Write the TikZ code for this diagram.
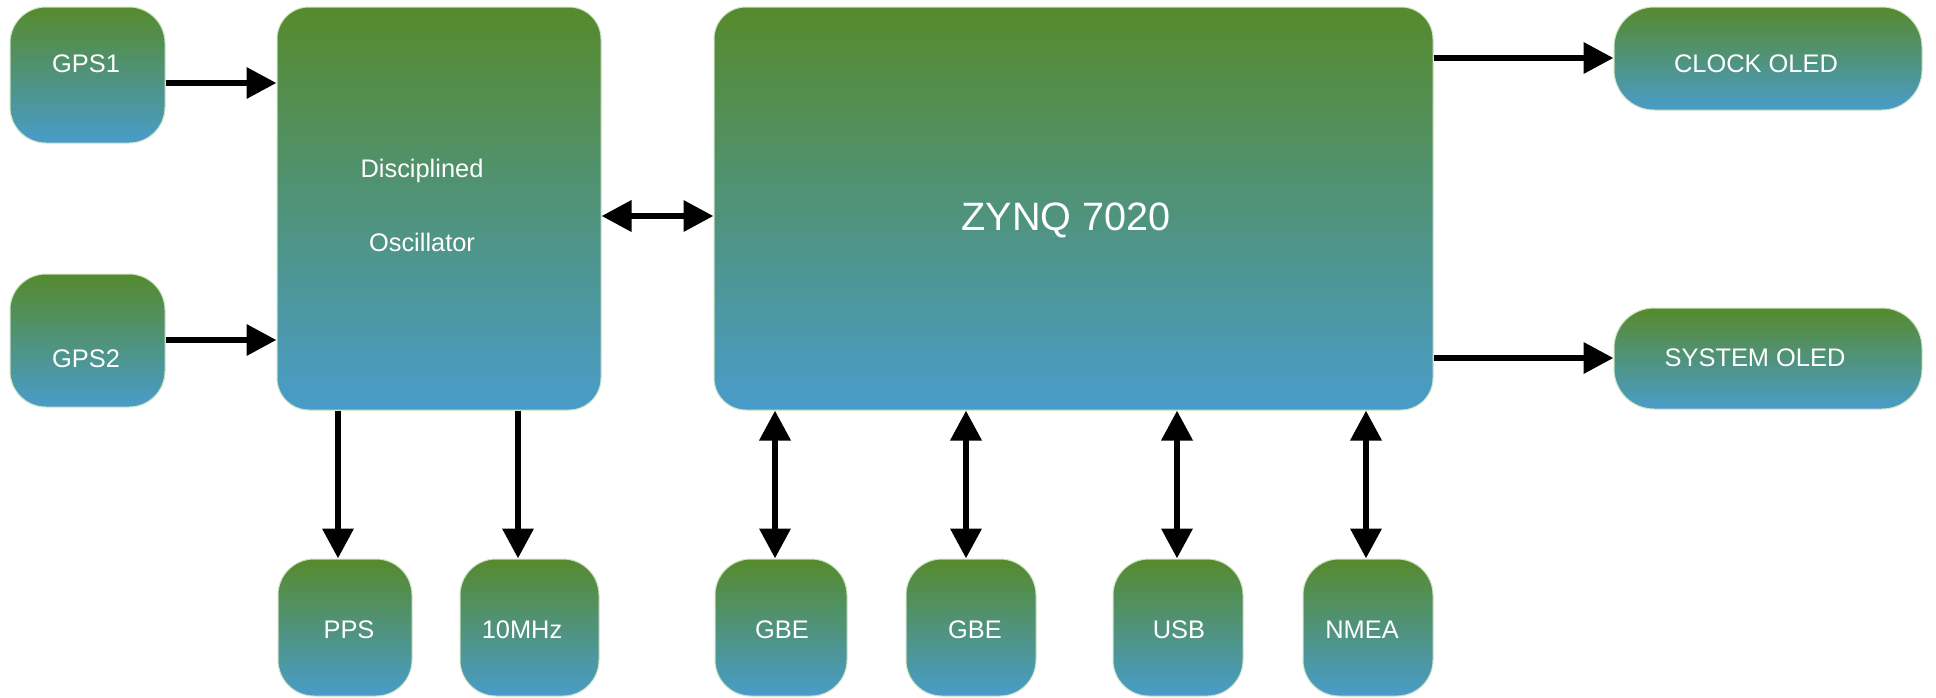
\documentclass[tikz,border=0pt]{standalone}
\usepackage{fontspec}
\setmainfont{Liberation Sans}
\usetikzlibrary{arrows.meta}
\definecolor{topg}{RGB}{86,138,44}
\definecolor{botb}{RGB}{73,156,202}
\definecolor{edgec}{RGB}{205,228,195}
\tikzset{
  x=0.5pt, y=-0.5pt,
  box/.style={rectangle, rounded corners=#1, top color=topg, bottom color=botb,
    draw=edgec, line width=0.5pt, inner sep=0pt},
  box/.default=16pt,
  txt/.style={text=white, inner sep=0pt, anchor=base, font=\fontsize{12.7pt}{15pt}\selectfont},
  bigtxt/.style={text=white, inner sep=0pt, anchor=base, font=\fontsize{19.8pt}{23pt}\selectfont},
  arr/.style={line width=3.3pt, -{Triangle[length=15pt,width=15pt]}},
  biarr/.style={line width=3.3pt, {Triangle[length=15pt,width=15pt]}-{Triangle[length=15pt,width=15pt]}}
}
\begin{document}
\begin{tikzpicture}
\useasboundingbox (0,0) rectangle (1936,697);
% boxes
\node[box=18pt, minimum width=77.5pt, minimum height=68pt] (gps1) at (87.5,75) {};
\node[box=18pt, minimum width=77.5pt, minimum height=66.5pt] (gps2) at (87.5,340.5) {};
\node[box=16pt, minimum width=162pt, minimum height=201.5pt] (osc) at (439,208.5) {};
\node[box=16pt, minimum width=359.5pt, minimum height=201.5pt] (zynq) at (1073.5,208.5) {};
\node[box=20pt, minimum width=154pt, minimum height=51.5pt] (clock) at (1768,58.5) {};
\node[box=20pt, minimum width=154pt, minimum height=50.5pt] (sys) at (1768,358.5) {};
\node[box=18pt, minimum width=67pt, minimum height=68.5pt] (pps) at (345,627.5) {};
\node[box=18pt, minimum width=69.5pt, minimum height=68.5pt] (mhz) at (529.5,627.5) {};
\node[box=18pt, minimum width=66pt, minimum height=68.5pt] (gbea) at (781,627.5) {};
\node[box=18pt, minimum width=65pt, minimum height=68.5pt] (gbeb) at (971,627.5) {};
\node[box=18pt, minimum width=65pt, minimum height=68.5pt] (usb) at (1178,627.5) {};
\node[box=18pt, minimum width=65pt, minimum height=68.5pt] (nmea) at (1368,627.5) {};
% texts
\node[txt] (gps1t) at (86,72) {GPS1};
\node[txt] (gps2t) at (86,367) {GPS2};
\node[txt] (osct1) at (422,177) {Disciplined};
\node[txt] (osct2) at (422,251) {Oscillator};
\node[bigtxt] (zynqt) at (1066,230) {ZYNQ 7020};
\node[txt] (clockt) at (1756,72) {CLOCK OLED};
\node[txt] (syst) at (1755,366) {SYSTEM OLED};
\node[txt] (ppst) at (349,638) {PPS};
\node[txt] (mhzt) at (522,638) {10MHz};
\node[txt] (gbeat) at (782,638) {GBE};
\node[txt] (gbebt) at (975,638) {GBE};
\node[txt] (usbt) at (1179,638) {USB};
\node[txt] (nmeat) at (1362,638) {NMEA};
% connectors
\draw[arr] (gps1.east |- 0,83) -- (osc.west |- 0,83);
\draw[arr] (gps2.east |- 0,340) -- (osc.west |- 0,340);
\draw[biarr] (osc.east |- 0,216) -- (zynq.west |- 0,216);
\draw[arr] (zynq.east |- 0,58) -- (clock.west |- 0,58);
\draw[arr] (zynq.east |- 0,358) -- (sys.west |- 0,358);
\draw[arr] (osc.south -| 338,0) -- (pps.north -| 338,0);
\draw[arr] (osc.south -| 518,0) -- (mhz.north -| 518,0);
\draw[biarr] (zynq.south -| 775,0) -- (gbea.north -| 775,0);
\draw[biarr] (zynq.south -| 966,0) -- (gbeb.north -| 966,0);
\draw[biarr] (zynq.south -| 1177,0) -- (usb.north -| 1177,0);
\draw[biarr] (zynq.south -| 1366,0) -- (nmea.north -| 1366,0);
\end{tikzpicture}
\end{document}
